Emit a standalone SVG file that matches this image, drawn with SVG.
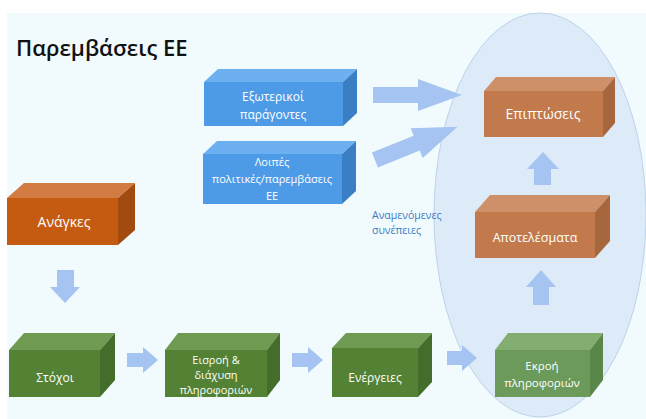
<svg xmlns="http://www.w3.org/2000/svg" width="646" height="419" viewBox="0 0 646 419">
<style>
.t{font-family:"Open Sans","Noto Sans","DejaVu Sans",sans-serif;fill:#ffffff;text-anchor:middle}
.arr{fill:#A5C4F2}
.bF{fill:#4D9BE6}.bT{fill:#6DB0F2}.bS{fill:#3A7FC4}
.oF{fill:#C55A11}.oT{fill:#D27B43}.oS{fill:#A34A0E}
.pF{fill:#C27A4C}.pT{fill:#CE9068}.pS{fill:#A6673E}
.gF{fill:#548235}.gT{fill:#6E9A51}.gS{fill:#446C2A}
.hF{fill:#6C9A5A}.hT{fill:#84AD72}.hS{fill:#5A8649}
</style>
<rect x="0" y="0" width="646" height="419" fill="#ffffff"/>
<rect x="7" y="13" width="639" height="406" fill="#F1FAFD"/>
<ellipse cx="540" cy="215" rx="106" ry="202" fill="#DDEBF8" stroke="#BCD2EA" stroke-width="1"/>
<text x="16" y="56" font-family="'Open Sans','Noto Sans',sans-serif" font-weight="600" font-size="22" fill="#111111">Παρεμβάσεις ΕΕ</text>
<text x="372" y="219" font-family="'Open Sans','Noto Sans',sans-serif" font-size="10.5" fill="#3E7CC5">Αναμενόμενες</text>
<text x="372" y="234" font-family="'Open Sans','Noto Sans',sans-serif" font-size="10.5" fill="#3E7CC5">συνέπειες</text>

<g id="connectors">
<polygon class="arr" points="373,87 418,87 418,79 462,95 418,111 418,103 373,103"/>
<polygon class="arr" transform="translate(375,160) rotate(-22)" points="0,-8 45,-8 45,-16 89,0 45,16 45,8 0,8"/>
<polygon class="arr" points="57,270 74,270 74,287 80,287 65,303 50,287 57,287"/>
<polygon class="arr" points="127,353 143,353 143,347 158,360 143,373 143,367 127,367"/>
<polygon class="arr" points="292,353 308,353 308,347 323,360 308,373 308,367 292,367"/>
<polygon class="arr" points="447,351 462,351 462,345 477,358 462,371 462,365 447,365"/>
<polygon class="arr" points="533,305 549,305 549,287 556,287 541,270 526,287 533,287"/>
<polygon class="arr" points="534,185 551,185 551,169 559,169 543,152 527,169 534,169"/>
</g>

<g id="n-exoterikoi">
<polygon class="bT" points="204,82 218,69 357,69 343,82"/>
<polygon class="bS" points="343,82 357,69 357,113 343,126"/>
<rect class="bF" x="204" y="82" width="139" height="44"/>
<text class="t" font-size="12" x="273" y="101">Εξωτερικοί</text>
<text class="t" font-size="12" x="273" y="119">παράγοντες</text>
</g>

<g id="n-loipes">
<polygon class="bT" points="203,154 217,141 356,141 342,154"/>
<polygon class="bS" points="342,154 356,141 356,191 342,204"/>
<rect class="bF" x="203" y="154" width="139" height="50"/>
<text class="t" font-size="11" x="272" y="166">Λοιπές</text>
<text class="t" font-size="11" x="272" y="183">πολιτικές/παρεμβάσεις</text>
<text class="t" font-size="11" x="272" y="200">ΕΕ</text>
</g>

<g id="n-anagkes">
<polygon class="oT" points="7,198 24,183 135,183 118,198"/>
<polygon class="oS" points="118,198 135,183 135,230 118,245"/>
<rect class="oF" x="7" y="198" width="111" height="47"/>
<text class="t" font-size="14" x="64" y="227">Ανάγκες</text>
</g>

<g id="n-stoxoi">
<polygon class="gT" points="9,350 24,333 115,333 100,350"/>
<polygon class="gS" points="100,350 115,333 115,380 100,397"/>
<rect class="gF" x="9" y="350" width="91" height="47"/>
<text class="t" font-size="12" x="55" y="382">Στόχοι</text>
</g>

<g id="n-eisroi">
<polygon class="gT" points="165,350 178,333 280,333 267,350"/>
<polygon class="gS" points="267,350 280,333 280,380 267,397"/>
<rect class="gF" x="165" y="350" width="102" height="47"/>
<text class="t" font-size="11" x="216" y="364">Εισροή &amp;</text>
<text class="t" font-size="11" x="216" y="379">διάχυση</text>
<text class="t" font-size="11" x="216" y="394">πληροφοριών</text>
</g>

<g id="n-energeies">
<polygon class="gT" points="332,348 346,333 432,333 418,348"/>
<polygon class="gS" points="418,348 432,333 432,382 418,397"/>
<rect class="gF" x="332" y="348" width="86" height="49"/>
<text class="t" font-size="12" x="375" y="382">Ενέργειες</text>
</g>

<g id="n-ekroi">
<polygon class="hT" points="495,350 508,333 603,333 590,350"/>
<polygon class="hS" points="590,350 603,333 603,380 590,397"/>
<rect class="hF" x="495" y="350" width="95" height="47"/>
<text class="t" font-size="11.5" x="542" y="370">Εκροή</text>
<text class="t" font-size="11.5" x="542" y="387">πληροφοριών</text>
</g>

<g id="n-apotelesmata">
<polygon class="pT" points="475,212 490,195 610,195 595,212"/>
<polygon class="pS" points="595,212 610,195 610,241 595,258"/>
<rect class="pF" x="475" y="212" width="120" height="46"/>
<text class="t" font-size="12.5" x="535" y="242">Αποτελέσματα</text>
</g>

<g id="n-epiptoseis">
<polygon class="pT" points="484,91 496,77 615,77 603,91"/>
<polygon class="pS" points="603,91 615,77 615,123 603,137"/>
<rect class="pF" x="484" y="91" width="119" height="46"/>
<text class="t" font-size="14" x="543" y="119">Επιπτώσεις</text>
</g>
</svg>
